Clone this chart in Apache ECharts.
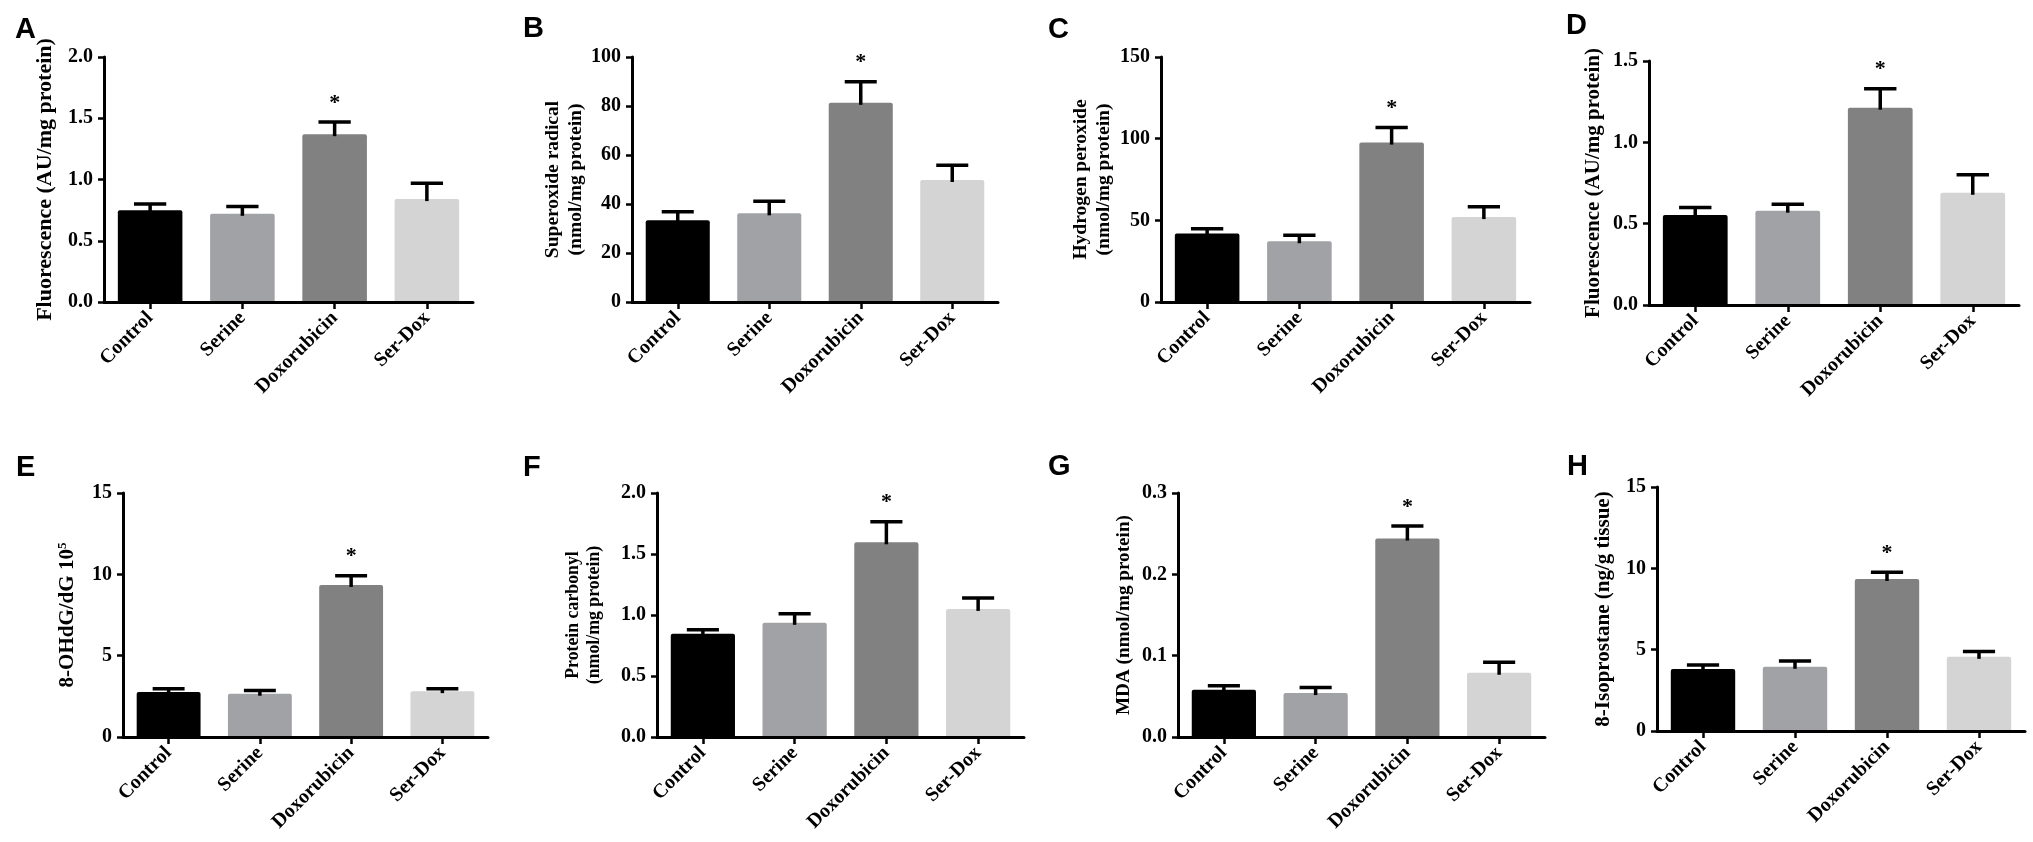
<!DOCTYPE html>
<html>
<head>
<meta charset="utf-8">
<script src="https://cdn.jsdelivr.net/npm/echarts@6/dist/echarts.min.js"></script>
<style>
html,body{margin:0;padding:0;background:#fff;}
#c{width:2033px;height:842px;}
</style>
</head>
<body>
<div id="c"></div>
<script>
// ---- data ----
const categories = ['Control', 'Serine', 'Doxorubicin', 'Ser-Dox'];
const significant = [false, false, true, false];

const A_mean = [0.75, 0.72, 1.37, 0.84];
const A_sem  = [0.05, 0.06, 0.10, 0.13];
const B_mean = [33.4, 36.2, 81.3, 49.8];
const B_sem  = [3.4, 4.9, 8.6, 6.0];
const C_mean = [41.9, 37.2, 97.6, 52.0];
const C_sem  = [2.9, 3.7, 9.2, 6.3];
const D_mean = [0.553, 0.58, 1.213, 0.69];
const D_sem  = [0.047, 0.04, 0.117, 0.11];
const E_mean = [2.76, 2.66, 9.35, 2.82];
const E_sem  = [0.21, 0.20, 0.57, 0.15];
const F_mean = [0.846, 0.936, 1.596, 1.05];
const F_sem  = [0.034, 0.074, 0.169, 0.09];
const G_mean = [0.058, 0.054, 0.244, 0.079];
const G_sem  = [0.005, 0.007, 0.0155, 0.013];
const H_mean = [3.81, 3.95, 9.35, 4.56];
const H_sem  = [0.24, 0.35, 0.41, 0.33];

const panelLetters = ['A', 'B', 'C', 'D', 'E', 'F', 'G', 'H'];
const yTitles = [
  'Fluorescence (AU/mg protein)',
  'Superoxide radical\n(nmol/mg protein)',
  'Hydrogen peroxide\n(nmol/mg protein)',
  'Fluorescence (AU/mg protein)',
  '8-OHdG/dG 10{sup|5}',
  'Protein carbonyl\n(nmol/mg protein)',
  'MDA (nmol/mg protein)',
  '8-Isoprostane (ng/g tissue)'
];
const yMax = [2.0, 100, 150, 1.5, 15, 2.0, 0.3, 15];
const yInterval = [0.5, 20, 50, 0.5, 5, 0.5, 0.1, 5];
const yDecimals = [1, 0, 0, 1, 0, 1, 1, 0];

const means = [A_mean, B_mean, C_mean, D_mean, E_mean, F_mean, G_mean, H_mean];
const sems = [A_sem, B_sem, C_sem, D_sem, E_sem, F_sem, G_sem, H_sem];

// ---- layout / style ----
const barColors = ['#000000', '#a1a2a5', '#808180', '#d4d4d4'];
const grids = [
  {left: 104, top: 57, width: 369, height: 245},
  {left: 632, top: 57, width: 366, height: 245},
  {left: 1161, top: 57, width: 369, height: 245},
  {left: 1649, top: 61, width: 370, height: 244},
  {left: 123, top: 493, width: 365, height: 244},
  {left: 657, top: 493, width: 367, height: 244},
  {left: 1178, top: 493, width: 367, height: 244},
  {left: 1657, top: 487, width: 368, height: 244}
];
const nameGaps = [47, 42, 46, 43, 43, 52, 43, 41];
const titleSizes = [22, 19.5, 19.5, 21, 21, 17.8, 19.2, 21];
const titleLineHeights = [24, 23, 23, 24, 24, 21, 22, 24];
const letterPos = [[15, 41], [523, 40], [1048, 41], [1566, 37], [16, 479], [523, 479], [1048, 478], [1567, 478]];

const SERIF = '"Liberation Serif", "Times New Roman", serif';

const option = {
  backgroundColor: '#ffffff',
  animation: false,
  grid: grids.map(g => Object.assign({containLabel: false}, g)),
  xAxis: grids.map((g, k) => ({
    type: 'category',
    gridIndex: k,
    data: categories,
    z: 5,
    axisLine: {show: true, lineStyle: {color: '#000', width: 3}},
    axisTick: {show: true, alignWithLabel: true, length: 7, lineStyle: {color: '#000', width: 2.5}},
    axisLabel: {
      show: true, interval: 0, rotate: 45, margin: 13,
      fontFamily: SERIF, fontWeight: 'bold', fontSize: 20, color: '#000'
    },
    splitLine: {show: false}
  })),
  yAxis: grids.map((g, k) => ({
    type: 'value',
    gridIndex: k,
    min: 0,
    max: yMax[k],
    interval: yInterval[k],
    z: 5,
    name: yTitles[k],
    nameLocation: 'middle',
    nameRotate: 90,
    nameGap: nameGaps[k],
    nameTextStyle: {
      fontFamily: SERIF, fontWeight: 'bold', fontSize: titleSizes[k], color: '#000', lineHeight: titleLineHeights[k],
      rich: {
        sup: {fontFamily: SERIF, fontWeight: 'bold', fontSize: 13, color: '#000', verticalAlign: 'top', lineHeight: titleLineHeights[k]}
      }
    },
    axisLine: {show: true, onZero: false, lineStyle: {color: '#000', width: 3}},
    axisTick: {show: true, length: 6, lineStyle: {color: '#000', width: 2.5}},
    axisLabel: {
      show: true, margin: 11,
      fontFamily: SERIF, fontWeight: 'bold', fontSize: 20, color: '#000',
      formatter: (v) => v.toFixed(yDecimals[k])
    },
    splitLine: {show: false}
  })),
  graphic: panelLetters.map((L, k) => ({
    type: 'text',
    left: letterPos[k][0],
    top: letterPos[k][1] - 26,
    style: {
      text: L,
      font: 'bold 29px "Liberation Sans", Arial, sans-serif',
      fill: '#000'
    }
  })),
  series: []
};

function errRender(params, api) {
  const i = api.value(0), m = api.value(1), e = api.value(2), s = api.value(3);
  const base = api.coord([i, m]);
  const top = api.coord([i, m + e]);
  const half = api.size([1, 0])[0] * 0.7 / 4;
  const children = [
    {type: 'line', shape: {x1: base[0], y1: base[1] + 2, x2: top[0], y2: top[1]},
     style: {stroke: '#000', lineWidth: 3.5}},
    {type: 'line', shape: {x1: top[0] - half, y1: top[1], x2: top[0] + half, y2: top[1]},
     style: {stroke: '#000', lineWidth: 3.5}}
  ];
  if (s) {
    children.push({type: 'text', x: top[0], y: top[1] - 19,
      style: {text: '*', fill: '#000', font: 'bold 22px "Liberation Serif", serif', align: 'center', verticalAlign: 'middle'}});
  }
  return {type: 'group', children: children};
}

for (let k = 0; k < 8; k++) {
  option.series.push({
    type: 'bar',
    xAxisIndex: k, yAxisIndex: k,
    barWidth: '70%',
    z: 2,
    data: means[k].map((v, i) => ({value: v, itemStyle: {color: barColors[i], borderRadius: [2, 2, 0, 0]}}))
  });
  option.series.push({
    type: 'custom',
    xAxisIndex: k, yAxisIndex: k,
    z: 3,
    clip: false,
    renderItem: errRender,
    encode: {x: 0, y: 1},
    data: means[k].map((v, i) => [i, v, sems[k][i], significant[i] ? 1 : 0])
  });
}

const chart = echarts.init(document.getElementById('c'), null, {renderer: 'canvas'});
chart.setOption(option);
</script>
</body>
</html>
